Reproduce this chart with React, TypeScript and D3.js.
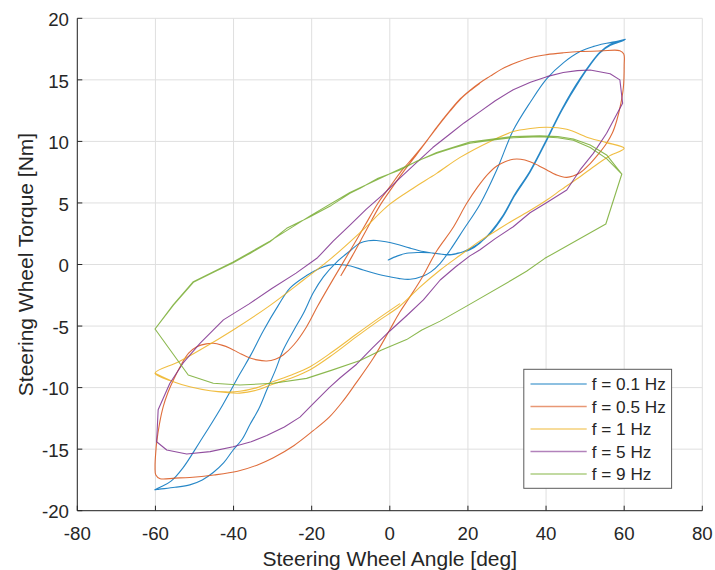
import React from "react";
import * as d3 from "d3";

type Pt = [number, number];

// x ticks / y ticks
const xTicks = [-80, -60, -40, -20, 0, 20, 40, 60, 80];
const yTicks = [-20, -15, -10, -5, 0, 5, 10, 15, 20];

const seriesLabels = ["f = 0.1 Hz", "f = 0.5 Hz", "f = 1 Hz", "f = 5 Hz", "f = 9 Hz"];
const seriesColors = ["#0072BD", "#D95319", "#EDB120", "#7E2F8E", "#77AC30"];

// f = 0.1 Hz  [angle deg, torque Nm]
const f01: Pt[] = [
  [-0.4, 0.37], [2, 0.7], [4.3, 0.91], [7, 0.98], [10.3, 0.96], [13, 0.85], [15.4, 0.77], [18.8, 1.04],
  [22.2, 1.58], [25.7, 2.5], [29, 3.9], [32, 5.6], [35.9, 7.5], [40.2, 10.1], [44, 12.5], [48.7, 15.0],
  [51.5, 16.3], [53.8, 17.2], [56.5, 17.8], [59.8, 18.2], [60.3, 18.3], [58.5, 18.15], [55.5, 17.97],
  [52, 17.7], [48.7, 17.3], [44.5, 16.4], [40.2, 15.1], [36, 13.2], [31.6, 10.9], [27.4, 7.7], [23.1, 4.9],
  [18.8, 2.8], [15.5, 1.2], [12.9, 0.1], [10.5, -0.6], [8.6, -0.93], [5.2, -1.2], [2.5, -1.15], [0, -1.0],
  [-3.5, -0.75], [-6.8, -0.45], [-10, -0.12], [-13.2, 0.0], [-15.5, -0.05], [-17.9, -0.3], [-21.3, -0.9],
  [-25.5, -1.9], [-28.5, -3.3], [-32.4, -5.4], [-35.5, -7.3], [-38.4, -8.9], [-43.5, -11.8], [-48.6, -14.4],
  [-52.9, -16.5], [-56, -17.6], [-58.8, -18.1], [-60.2, -18.3], [-59, -18.25], [-55, -18.1], [-51.2, -17.9],
  [-48, -17.5], [-45.2, -16.9], [-42.5, -16.1], [-40.1, -15.07], [-37.8, -14.2], [-35.8, -13.0],
  [-33.5, -11.7], [-31.5, -10.2], [-29.3, -8.6], [-27.3, -6.95], [-24.5, -5.3], [-22.1, -3.96],
  [-19.6, -2.3], [-17, -1.0], [-13.6, 0.2], [-10.2, 1.1], [-7.6, 1.75], [-5.5, 1.93], [-3.4, 1.95],
  [-1, 1.85], [1.8, 1.65], [5, 1.35], [8.6, 1.05], [11.1, 0.92], [14.6, 0.8], [17.1, 0.9], [20.5, 1.2],
  [23.1, 1.75], [25.7, 2.6], [29, 4.0], [32, 5.7], [35.9, 7.6], [40.2, 10.2], [44, 12.6], [48.7, 15.1],
  [53.8, 17.25], [56.5, 17.9], [59.8, 18.25],
];

// f = 0.5 Hz
const f05: Pt[] = [
  [-12.5, -0.9], [-9.6, 0.7], [-6, 2.8], [-2.5, 4.8], [0.5, 6.2], [3.4, 7.5], [6.3, 8.7], [8.8, 9.75],
  [12, 11.15], [15.4, 12.5], [18, 13.45], [20.5, 14.15], [23, 14.75], [25.7, 15.3], [28.5, 15.85],
  [31.6, 16.3], [36, 16.8], [40.2, 17.05], [44.5, 17.2], [48.7, 17.3], [54, 17.35], [58.9, 17.37],
  [59.9, 17.1], [60, 16.2], [59.8, 14.4], [59.1, 13], [58.1, 11.7], [57, 10.7], [55.5, 9.85], [53.5, 9],
  [51.3, 8.2], [48.7, 7.45], [45.3, 7.08], [42.5, 7.3], [40.2, 7.68], [38, 8.05], [35.9, 8.35],
  [33.5, 8.55], [31.6, 8.55], [29.5, 8.35], [27.4, 8.0], [25, 7.3], [22.5, 6.3], [19.7, 4.97], [16, 2.9],
  [12, 1.1], [8.2, -1.1], [5, -2.7], [2.5, -3.9], [0, -5.3], [-4.2, -7.6], [-8.8, -9.7], [-12, -11.1],
  [-15.5, -12.4], [-19.6, -13.5], [-24.5, -14.7], [-29.8, -15.7], [-34, -16.3], [-39, -16.8],
  [-45, -17.1], [-51.2, -17.3], [-55, -17.35], [-58.8, -17.4], [-59.9, -17.1], [-60.1, -16.4],
  [-59.9, -15.2], [-59.7, -14.5], [-59, -13], [-58, -11.55], [-56.8, -10.4], [-55.4, -9.38],
  [-53.5, -8.2], [-51.5, -7.2], [-49.4, -6.68], [-47, -6.45], [-45.2, -6.4], [-43, -6.55], [-40.9, -6.8],
  [-38.5, -7.2], [-36.6, -7.49], [-34, -7.75], [-31.5, -7.84], [-29.3, -7.7], [-27.3, -7.35],
  [-24.5, -6.5], [-21.3, -5.05], [-18.5, -3.4], [-15.8, -1.9], [-13.2, -0.5], [-10.2, 1.1], [-6.5, 3.1],
  [-3, 5.0], [0, 6.3], [3, 7.6], [6, 8.7], [8.6, 9.7], [12, 11.1], [15.4, 12.45], [18, 13.4],
  [20.5, 14.1], [23, 14.7],
];

// f = 1 Hz
const f1: Pt[] = [
  [2.5, -3.2], [-3, -4.4], [-8.5, -5.65], [-14.5, -7.05], [-20.4, -8.3], [-25, -8.95], [-29.8, -9.5],
  [-34, -10.0], [-38.4, -10.3], [-42, -10.35], [-46, -10.25], [-51.2, -9.93], [-55.4, -9.52],
  [-60.1, -8.84], [-54, -7.9], [-48.6, -6.95], [-40.1, -5.32], [-31, -3.4], [-22.1, -1.26], [-15, 0.5],
  [-7.6, 2.6], [0, 4.9], [6, 6.2], [12, 7.4], [18, 8.7], [25.7, 10.0], [31.6, 10.8], [36, 11.05],
  [40.2, 11.15], [45.3, 10.98], [51.3, 10.25], [55.5, 9.9], [60, 9.44], [55.9, 8.76], [52, 7.9],
  [48.7, 7.13], [44, 6.1], [40.2, 5.24], [36, 4.4], [31.6, 3.6], [27, 2.7], [23, 1.9], [18, 0.75],
  [12.9, -0.45], [7.5, -1.9], [2.6, -3.37], [-3, -4.6], [-8.5, -5.86], [-14.5, -7.3], [-20.4, -8.55],
  [-25, -9.2], [-29.8, -9.7], [-34, -10.2], [-38.4, -10.45], [-42, -10.4], [-46, -10.25],
  [-51.2, -9.93], [-55.4, -9.52], [-60.1, -8.84],
];

// f = 5 Hz
const f5: Pt[] = [
  [-59.7, -14.4], [-57.1, -15.07], [-52, -15.4], [-46, -15.2], [-40.1, -14.8], [-35.5, -14.4],
  [-31.5, -13.9], [-27, -13.2], [-23, -12.4], [-19.6, -11.3], [-15.5, -10.0], [-12.7, -9.2],
  [-8.5, -8.1], [-4.5, -6.8], [0, -5.4], [4.5, -4.1], [8.6, -2.88], [12.9, -1.26], [16.8, -0.2],
  [20.5, 0.7], [23, 1.18], [27, 2.1], [31.6, 3.07], [35.9, 4.2], [40, 5.0], [45.3, 6.05], [48.7, 7.68],
  [52.1, 9.03], [55.5, 10.66], [59.6, 13.1], [58.9, 15.0], [56.4, 15.5], [51.3, 15.8], [48, 15.75],
  [44.4, 15.6], [40.2, 15.26], [36, 14.8], [31.6, 14.2], [27, 13.3], [23, 12.4], [19, 11.5],
  [15.4, 10.6], [11, 9.5], [6.9, 8.3], [2.5, 7.0], [-1.7, 5.7], [-6, 4.5], [-10.2, 3.2], [-14.5, 1.9],
  [-18.5, 0.55], [-24, -0.7], [-30.2, -1.95], [-36, -3.2], [-42.6, -4.5], [-48.6, -6.4],
  [-52.9, -8.0], [-56.3, -9.65], [-59.3, -11.8], [-59.7, -14.4],
];

// f = 9 Hz
const f9: Pt[] = [
  [-60.1, -5.24], [-55.4, -3.3], [-50.3, -1.45], [-45, -0.6], [-40.1, 0.15], [-35.8, 0.9],
  [-30.7, 1.85], [-26.4, 2.94], [-20.4, 3.88], [-15, 4.8], [-10.2, 5.78], [-7.6, 6.19], [-3, 7.0],
  [2.6, 7.68], [7, 8.4], [12, 9.03], [16, 9.45], [20.5, 9.85], [26, 10.1], [31.6, 10.3], [38.4, 10.38],
  [43, 10.3], [47, 10.1], [51.3, 9.5], [55.5, 8.6], [59.4, 7.35], [55.3, 3.29], [39.7, 0.5],
  [35, -0.55], [31, -1.3], [20.1, -3.3], [12.9, -4.6], [8.2, -5.32], [4.3, -6.1], [-2.1, -6.95],
  [-7.6, -7.8], [-15, -8.6], [-21.3, -9.25], [-29.8, -9.65], [-38.4, -9.79], [-45.2, -9.65],
  [-51.6, -8.98], [-60.1, -5.24], [-55.4, -3.25], [-50.3, -1.4], [-40.1, 0.2], [-30.7, 1.9],
  [-20.4, 3.95], [-10.2, 5.85], [2.6, 7.75], [12, 9.1], [20.5, 9.95], [31.6, 10.4], [38.4, 10.45],
  [43, 10.4], [47, 10.2], [51.3, 9.7], [55.5, 8.9], [59.4, 7.35],
];

const allSeries: Pt[][] = [f01, f05, f1, f5, f9];
const smoothFlags = [true, true, true, false, false];

const W = 715;
const H = 570;
const left = 77.3;
const right = 702.3;
const top = 18.3;
const bottom = 510.7;

export default function App() {
  const x = d3.scaleLinear().domain([-80, 80]).range([left, right]);
  const y = d3.scaleLinear().domain([-20, 20]).range([bottom, top]);
  const font = "'Liberation Sans', Arial, Helvetica, sans-serif";
  const axisColor = "#262626";

  const lineSmooth = d3
    .line<Pt>()
    .x((d) => x(d[0]))
    .y((d) => y(d[1]))
    .curve(d3.curveCatmullRom.alpha(0.5));
  const lineStraight = d3
    .line<Pt>()
    .x((d) => x(d[0]))
    .y((d) => y(d[1]));

  const legendX = 523.8;
  const legendY = 369.3;
  const legendW = 147.8;
  const legendH = 119;
  const rowY = d3.scaleLinear().domain([0, 4]).range([384, 474]);

  return (
    <svg
      width={W}
      height={H}
      style={{ position: "absolute", left: 0, top: 0, background: "#fff" }}
      fontFamily={font}
    >
      <rect x={0} y={0} width={W} height={H} fill="#fff" />
      {/* grid */}
      <g stroke="#dfdfdf" strokeWidth={1}>
        {xTicks.map((t) => (
          <line key={"gx" + t} x1={x(t)} x2={x(t)} y1={top} y2={bottom} />
        ))}
        {yTicks.map((t) => (
          <line key={"gy" + t} x1={left} x2={right} y1={y(t)} y2={y(t)} />
        ))}
      </g>
      {/* data */}
      <g fill="none" strokeWidth={1.1} strokeLinejoin="round" strokeLinecap="round">
        {allSeries.map((s, i) => (
          <path
            key={"s" + i}
            d={(smoothFlags[i] ? lineSmooth(s) : lineStraight(s)) || ""}
            stroke={seriesColors[i]}
            strokeOpacity={0.85}
          />
        ))}
      </g>
      {/* axes */}
      <g stroke={axisColor} strokeWidth={1}>
        <line x1={left} x2={left} y1={top} y2={bottom} />
        <line x1={left} x2={right} y1={bottom} y2={bottom} />
        {xTicks.map((t) => (
          <line key={"tx" + t} x1={x(t)} x2={x(t)} y1={bottom} y2={bottom - 5} />
        ))}
        {yTicks.map((t) => (
          <line key={"ty" + t} x1={left} x2={left + 5} y1={y(t)} y2={y(t)} />
        ))}
      </g>
      <g fill={axisColor} fontSize={18.7}>
        {xTicks.map((t) => (
          <text key={"lx" + t} x={x(t)} y={539.5} textAnchor="middle">
            {String(t)}
          </text>
        ))}
        {yTicks.map((t) => (
          <text key={"ly" + t} x={69} y={y(t) + 7.7} textAnchor="end">
            {String(t)}
          </text>
        ))}
      </g>
      <text x={(left + right) / 2} y={566} textAnchor="middle" fontSize={21} fill={axisColor}>
        Steering Wheel Angle [deg]
      </text>
      <text
        transform={`translate(33,${(top + bottom) / 2}) rotate(-90)`}
        textAnchor="middle"
        fontSize={21}
        fill={axisColor}
      >
        Steering Wheel Torque [Nm]
      </text>
      {/* legend */}
      <rect x={legendX} y={legendY} width={legendW} height={legendH} fill="#fff" stroke="#5a5a5a" strokeWidth={1} />
      {seriesLabels.map((lab, i) => (
        <g key={"lg" + i}>
          <line
            x1={530.5}
            x2={586.7}
            y1={rowY(i)}
            y2={rowY(i)}
            stroke={seriesColors[i]}
            strokeOpacity={0.6}
            strokeWidth={1.3}
          />
          <text x={591.7} y={rowY(i) + 6.1} fontSize={17.2} fill={axisColor}>
            {lab}
          </text>
        </g>
      ))}
    </svg>
  );
}
